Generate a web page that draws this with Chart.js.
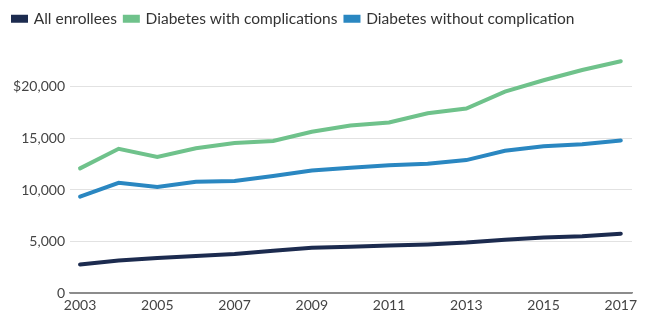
<!DOCTYPE html>
<html>
<head>
<meta charset="utf-8">
<script src="https://cdn.jsdelivr.net/npm/chart.js@4"></script>
<style>
  html, body { margin: 0; padding: 0; background: #fff; }
  #wrap { width: 646px; height: 335px; }
</style>
</head>
<body>
<div id="wrap"><canvas id="chart"></canvas></div>
<script>
// years on the x axis
const years = [2003, 2004, 2005, 2006, 2007, 2008, 2009, 2010, 2011, 2012, 2013, 2014, 2015, 2016, 2017];

// average spending per enrollee ($)
const allEnrollees = [2770, 3150, 3400, 3600, 3790, 4100, 4400, 4480, 4600, 4720, 4900, 5170, 5380, 5500, 5760];
const withComplications = [12100, 14000, 13200, 14050, 14550, 14750, 15650, 16250, 16550, 17450, 17900, 19550, 20650, 21650, 22500];
const withoutComplication = [9350, 10700, 10300, 10800, 10870, 11350, 11900, 12150, 12400, 12550, 12900, 13800, 14250, 14450, 14800];

const xTicks = [2003, 2005, 2007, 2009, 2011, 2013, 2015, 2017];
const yTicks = [0, 5000, 10000, 15000, 20000];

const toPoints = vals => vals.map((v, i) => ({ x: years[i], y: v }));

const font = "Lato, 'Open Sans', sans-serif";

const series = [
  { label: "All enrollees", data: allEnrollees, color: "#1c2b4f" },
  { label: "Diabetes with complications", data: withComplications, color: "#6fc28b" },
  { label: "Diabetes without complication", data: withoutComplication, color: "#2a87c1" },
];

new Chart(document.getElementById("chart"), {
  type: "line",
  data: {
    datasets: series.map(s => ({
      label: s.label,
      data: toPoints(s.data),
      borderColor: s.color,
      backgroundColor: s.color,
      borderWidth: 4,
      pointRadius: 0,
      tension: 0,
      borderCapStyle: "round",
    })),
  },
  options: {
    responsive: true,
    maintainAspectRatio: false,
    animation: false,
    layout: { padding: { left: 5, right: 14, top: 3, bottom: 10 } },
    plugins: {
      tooltip: { enabled: false },
      legend: {
        align: "start",
        labels: {
          boxWidth: 13,
          boxHeight: 4,
          padding: 8,
          color: "#333",
          font: { family: font, size: 15.5 },
        },
      },
    },
    scales: {
      x: {
        type: "linear",
        min: 2002.74,
        max: 2017.29,
        afterBuildTicks: scale => { scale.ticks = xTicks.map(v => ({ value: v })); },
        afterFit: scale => { scale.height = 32; },
        grid: { display: false, drawTicks: false },
        border: { display: true, color: "#8c8c8c", width: 1.5 },
        ticks: {
          padding: 4,
          color: "#444",
          maxRotation: 0,
          font: { family: font, size: 14 },
          callback: v => String(v),
        },
      },
      y: {
        min: 0,
        max: 24900,
        afterBuildTicks: scale => { scale.ticks = yTicks.map(v => ({ value: v })); },
        afterFit: scale => { scale.width = 65; },
        grid: {
          drawTicks: false,
          color: ctx => ctx.tick && ctx.tick.value === 0 ? "#8c8c8c" : "#e2e2e2",
        },
        border: { display: false },
        ticks: {
          padding: 5,
          color: "#444",
          font: { family: font, size: 14 },
          callback: v => (v === 20000 ? "$" : "") + v.toLocaleString("en-US"),
        },
      },
    },
  },
});
</script>
</body>
</html>
